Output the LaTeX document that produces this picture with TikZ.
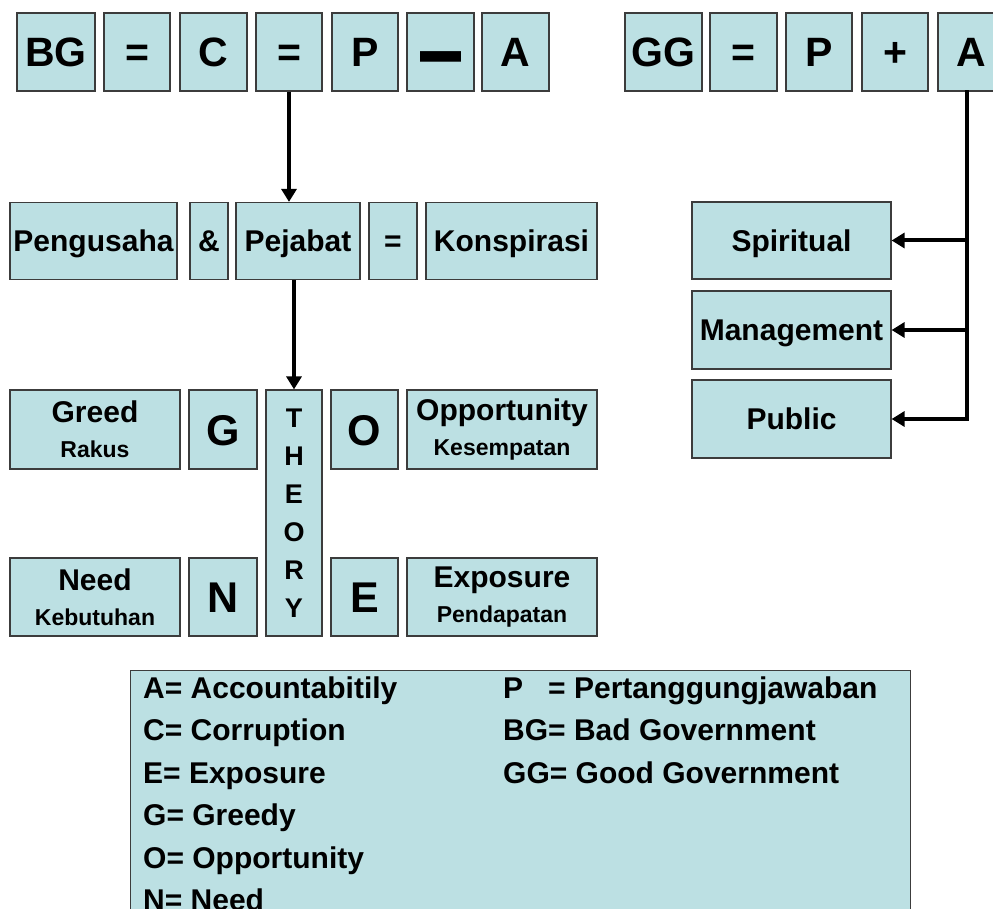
\documentclass[tikz,border=0pt]{standalone}
\usepackage{fontspec}
\setmainfont{Liberation Sans}
\usetikzlibrary{arrows.meta}
\definecolor{cellblue}{RGB}{188,224,227}
\definecolor{cellline}{RGB}{60,60,60}
\tikzset{
  cell/.style={draw=cellline,line width=1.2pt,fill=cellblue,inner sep=0pt,
    align=center,font=\bfseries\fontsize{30}{31}\selectfont},
  one/.style={text height=21.5pt,text depth=0pt},
  big/.style={font=\bfseries\fontsize{41}{41}\selectfont,text height=29.5pt,text depth=0pt},
  letter/.style={font=\bfseries\fontsize{43}{43}\selectfont,text height=31pt,text depth=0pt},
  link/.style={line width=4pt,line cap=rect},
  arr/.style={line width=4pt,-{Triangle[length=13pt,width=15pt]}},
  key/.style={anchor=base west,inner sep=0pt,font=\bfseries\fontsize{30}{31}\selectfont}
}
\newcommand\sub[1]{\\[4pt]{\fontsize{23}{24}\selectfont #1}}
\begin{document}
\begin{tikzpicture}[x=1pt,y=-1pt]
\useasboundingbox (0,0) rectangle (993,909);
% top row: bad government
\node[cell,big,minimum width=78,minimum height=78] (BG) at (56,52) {BG};
\node[cell,big,minimum width=66,minimum height=78] (eqA) at (137,52) {=};
\node[cell,big,minimum width=67,minimum height=78] (C) at (213.5,52) {C};
\node[cell,big,minimum width=66,minimum height=78] (eqB) at (289,52) {=};
\node[cell,big,minimum width=66,minimum height=78] (P) at (365,52) {P};
\node[cell,big,minimum width=67,minimum height=78] (minus) at (440.5,52)
  {\smash{\raisebox{-19pt}{\scalebox{1}[2.6]{—}}}};
\node[cell,big,minimum width=67,minimum height=78] (A) at (515.5,52) {A};
% top row: good government
\node[cell,big,minimum width=77,minimum height=78] (GG) at (663.5,52) {GG};
\node[cell,big,minimum width=67,minimum height=78] (eqC) at (743.5,52) {=};
\node[cell,big,minimum width=66,minimum height=78] (Pg) at (819,52) {P};
\node[cell,big,minimum width=66,minimum height=78] (plus) at (895,52) {+};
\node[cell,big,minimum width=67,minimum height=78] (Ag) at (971.5,52) {A};
% second row
\node[cell,one,minimum width=167,minimum height=77] (pengusaha) at (93.5,241) {Pengusaha};
\node[cell,one,minimum width=38,minimum height=77] (amp) at (209,241) {\&};
\node[cell,one,minimum width=124,minimum height=77] (pejabat) at (298,241) {Pejabat};
\node[cell,one,minimum width=48,minimum height=77] (eqD) at (393,241) {=};
\node[cell,one,minimum width=171,minimum height=77] (konspirasi) at (511.5,241) {Konspirasi};
% GONE theory
\node[cell,minimum width=170,minimum height=79] (greed) at (95,429.5) {Greed\sub{Rakus}};
\node[cell,letter,minimum width=68,minimum height=79] (G) at (223,429.5) {G};
\node[cell,minimum width=56,minimum height=246,font=\bfseries\fontsize{27}{38}\selectfont]
  (theory) at (294,513) {T\\H\\E\\O\\R\\Y};
\node[cell,letter,minimum width=67,minimum height=79] (O) at (364.5,429.5) {O};
\node[cell,minimum width=190,minimum height=79] (opportunity) at (502,429.5) {Opportunity\sub{Kesempatan}};
\node[cell,minimum width=170,minimum height=78] (need) at (95,597) {Need\sub{Kebutuhan}};
\node[cell,letter,minimum width=68,minimum height=78] (N) at (223,597) {N};
\node[cell,letter,minimum width=67,minimum height=78] (E) at (364.5,597) {E};
\node[cell,minimum width=190,minimum height=78] (exposure) at (502,597) {Exposure\sub{Pendapatan}};
% accountability
\node[cell,one,minimum width=199,minimum height=77] (spiritual) at (791.5,240.5) {Spiritual};
\node[cell,one,minimum width=199,minimum height=78] (management) at (791.5,330) {Management};
\node[cell,one,minimum width=199,minimum height=78] (public) at (791.5,419) {Public};
% connectors
\draw[arr] (eqB.south) -- (eqB.south |- pejabat.north);
\draw[arr] (theory.north |- pejabat.south) -- (theory.north);
\draw[link] ([xshift=-5]Ag.south) coordinate (bus) -- (bus |- public.east);
\foreach \n in {spiritual,management,public}
  \draw[arr] (bus |- \n.east) -- (\n.east);
% legend
\node[cell,anchor=north west,minimum width=780,minimum height=260] (legend) at (130,670) {};
\foreach \t [count=\i] in {A= Accountabitily,C= Corruption,E= Exposure,G= Greedy,O= Opportunity,N= Need}
  \node[key] (keyL\i) at (143,698+42.5*\i-42.5) {\t};
\foreach \t [count=\i] in {P\ \ \ = Pertanggungjawaban,BG= Bad Government,GG= Good Government}
  \node[key] (keyR\i) at (503,698+42.5*\i-42.5) {\t};
\end{tikzpicture}
\end{document}
